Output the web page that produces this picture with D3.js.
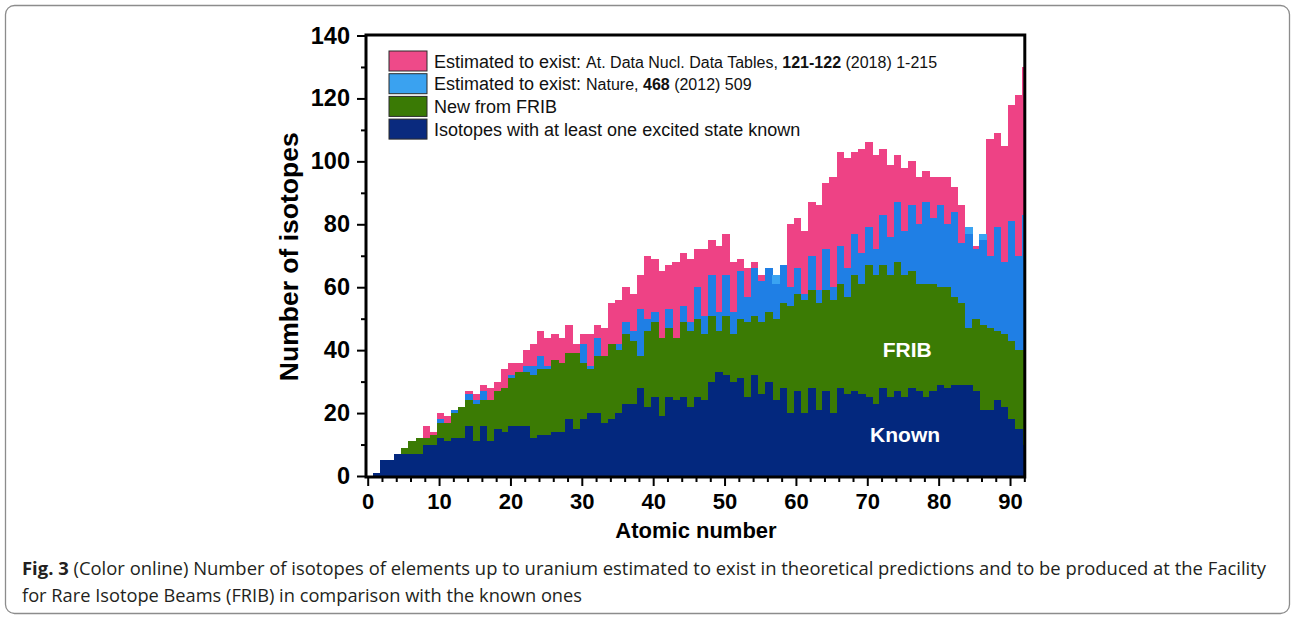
<!DOCTYPE html>
<html>
<head>
<meta charset="utf-8">
<script src="https://cdn.jsdelivr.net/npm/d3@7"></script>
<style>
  html, body { margin: 0; padding: 0; background: #ffffff; }
  svg { display: block; }
</style>
</head>
<body>
<svg id="chart" width="1294" height="620"></svg>
<script>
// Atomic numbers (hydrogen to uranium)
const atomicNumber = [
   1, 2, 3, 4, 5, 6, 7, 8, 9,10,
  11,12,13,14,15,16,17,18,19,20,
  21,22,23,24,25,26,27,28,29,30,
  31,32,33,34,35,36,37,38,39,40,
  41,42,43,44,45,46,47,48,49,50,
  51,52,53,54,55,56,57,58,59,60,
  61,62,63,64,65,66,67,68,69,70,
  71,72,73,74,75,76,77,78,79,80,
  81,82,83,84,85,86,87,88,89,90,
  91,92
];

// Estimated to exist: At. Data Nucl. Data Tables 121-122 (2018)
const estAtData = [
    1,  5,  5,  7,  9, 11, 12, 16, 14, 20,
   19, 21, 22, 27, 26, 29, 28, 30, 34, 36,
   36, 40, 42, 46, 44, 45, 44, 48, 42, 45,
   45, 48, 47, 55, 56, 60, 58, 64, 70, 69,
   65, 67, 68, 71, 69, 72, 72, 75, 73, 77,
   68, 69, 66, 68, 64, 66, 61, 67, 80, 82,
   78, 87, 86, 93, 95,103,101,103,104,106,
  102,104, 99,102, 98,100, 95, 97, 95, 95,
   95, 92, 86, 77, 73, 75,107,109,105,118,
  121,130
];

// Estimated to exist: Nature 468 (2012)
const estNature = [
    1,  5,  5,  7,  9, 11, 12, 12, 13, 18,
   17, 21, 22, 26, 24, 27, 24, 27, 28, 32,
   33, 35, 35, 38, 35, 37, 36, 39, 39, 42,
   35, 44, 38, 42, 42, 49, 46, 53, 50, 52,
   44, 53, 44, 54, 49, 60, 51, 64, 52, 64,
   52, 65, 57, 66, 62, 66, 64, 67, 60, 66,
   58, 70, 59, 72, 60, 73, 66, 77, 71, 79,
   72, 83, 76, 87, 78, 86, 80, 87, 82, 86,
   80, 84, 74, 79, 72, 77, 70, 79, 68, 81,
   70, 83
];

// New from FRIB
const newFRIB = [
    1,  5,  5,  7,  9, 11, 12, 12, 13, 17,
   17, 20, 22, 24, 23, 24, 24, 27, 28, 31,
   33, 33, 32, 34, 34, 37, 36, 39, 39, 36,
   34, 38, 38, 42, 40, 45, 43, 38, 46, 49,
   44, 47, 44, 49, 46, 50, 45, 51, 46, 51,
   45, 50, 49, 51, 49, 52, 50, 55, 54, 58,
   56, 59, 55, 59, 56, 61, 57, 64, 61, 67,
   64, 67, 64, 68, 64, 65, 61, 61, 61, 60,
   60, 57, 55, 47, 50, 48, 47, 46, 45, 43,
   40, 40
];

// Isotopes with at least one excited state known
const knownExcited = [
    1,  5,  5,  7,  7,  7,  7, 10, 10, 12,
   11, 12, 12, 16, 11, 16, 11, 15, 14, 16,
   16, 16, 12, 13, 13, 14, 14, 18, 15, 18,
   20, 20, 17, 18, 20, 23, 23, 28, 22, 25,
   19, 25, 24, 25, 22, 25, 24, 30, 33, 32,
   30, 31, 25, 32, 26, 30, 24, 28, 20, 27,
   20, 28, 21, 27, 20, 28, 26, 27, 26, 25,
   23, 28, 25, 27, 25, 28, 27, 25, 27, 29,
   28, 29, 29, 29, 27, 21, 21, 24, 22, 18,
   15, 10
];

// Axis ticks and labels
const xTickValues = [0, 10, 20, 30, 40, 50, 60, 70, 80, 90];
const yTickValues = [0, 20, 40, 60, 80, 100, 120, 140];
const xTitle = "Atomic number";
const yTitle = "Number of isotopes";

const legendEntries = [
  { color: "#ee4a89", parts: [
      { t: "Estimated to exist: ", size: 18 },
      { t: "At. Data Nucl. Data Tables, ", size: 16 },
      { t: "121-122", size: 16, bold: true },
      { t: " (2018) 1-215", size: 16 } ] },
  { color: "#3aa2f0", parts: [
      { t: "Estimated to exist: ", size: 18 },
      { t: "Nature, ", size: 16 },
      { t: "468", size: 16, bold: true },
      { t: " (2012) 509", size: 16 } ] },
  { color: "#3a7a05", parts: [ { t: "New from FRIB", size: 18 } ] },
  { color: "#0a2a7e", parts: [ { t: "Isotopes with at least one excited state known", size: 18 } ] }
];

const captionLines = [
  [ { t: "Fig. 3", bold: true },
    { t: " (Color online) Number of isotopes of elements up to uranium estimated to exist in theoretical predictions and to be produced at the Facility" } ],
  [ { t: "for Rare Isotope Beams (FRIB) in comparison with the known ones" } ]
];

const COLORS = {
  atData: "#ee4285",
  nature: "#1f7fe5",
  natureAbove: "#3aa3f2",
  frib: "#3b7b04",
  known: "#03287e"
};

const FONT = "'Liberation Sans', Arial, Helvetica, sans-serif";

const svg = d3.select("#chart");

// outer figure frame with rounded corners
svg.append("rect")
  .attr("x", 5.5).attr("y", 5.5)
  .attr("width", 1284).attr("height", 608)
  .attr("rx", 9).attr("ry", 9)
  .attr("fill", "none")
  .attr("stroke", "#8c8c8c")
  .attr("stroke-width", 1.3);

const x = d3.scaleLinear().domain([0, 92]).range([367.7, 1024.3]);
const y = d3.scaleLinear().domain([0, 140]).range([476, 35.5]);

// columns: each starts 0.3 below its atomic number and is one unit wide
const colLeft = z => x(z - 0.3);
const colWidth = x(1) - x(0);

svg.append("defs").append("clipPath").attr("id", "plotClip")
  .append("rect")
  .attr("x", x(0)).attr("y", y(140))
  .attr("width", x(92) - x(0)).attr("height", y(0) - y(140));

const plot = svg.append("g").attr("clip-path", "url(#plotClip)");

const rows = atomicNumber.map((z, i) => ({
  z,
  atData: estAtData[i],
  nature: estNature[i],
  frib: newFRIB[i],
  known: knownExcited[i]
}));

function drawColumns(cls, color, top, bottom) {
  plot.append("g").attr("class", cls)
    .selectAll("rect")
    .data(rows.filter(d => top(d) > bottom(d)))
    .join("rect")
    .attr("x", d => colLeft(d.z))
    .attr("width", colWidth + 0.4)
    .attr("y", d => y(top(d)))
    .attr("height", d => y(bottom(d)) - y(top(d)))
    .attr("fill", color)
    .attr("shape-rendering", "crispEdges");
}

drawColumns("at-data", COLORS.atData, d => d.atData, () => 0);
drawColumns("nature", COLORS.nature, d => Math.min(d.nature, d.atData), () => 0);
drawColumns("nature-above", COLORS.natureAbove, d => d.nature, d => d.atData);
drawColumns("frib", COLORS.frib, d => d.frib, () => 0);
drawColumns("known", COLORS.known, d => d.known, () => 0);

// in-plot labels
plot.append("text")
  .attr("x", x(75.6)).attr("y", y(40))
  .attr("dy", "0.35em")
  .attr("text-anchor", "middle")
  .attr("font-family", FONT).attr("font-weight", "bold").attr("font-size", 21)
  .attr("fill", "#ffffff")
  .text("FRIB");
plot.append("text")
  .attr("x", x(75.3)).attr("y", y(13.2))
  .attr("dy", "0.35em")
  .attr("text-anchor", "middle")
  .attr("font-family", FONT).attr("font-weight", "bold").attr("font-size", 21)
  .attr("fill", "#ffffff")
  .text("Known");

// axes
const axisLeftPos = 366;
const axisBottomPos = 477;
const axisRightPos = 1024.8;
const axisTopPos = 35;

const xMinor = d3.range(0, 93, 2).filter(v => v % 10 !== 0);
const yMinor = d3.range(10, 140, 20);

function styleAxis(size) {
  return g => {
    g.select(".domain").remove();
    g.selectAll(".tick line").attr("stroke", "#000").attr("stroke-width", 2);
    g.selectAll(".tick text")
      .attr("font-family", FONT).attr("font-weight", "bold")
      .attr("font-size", size).attr("fill", "#000");
  };
}

svg.append("g")
  .attr("transform", `translate(0,${axisBottomPos})`)
  .call(d3.axisBottom(x).tickValues(xMinor).tickSize(5).tickFormat(""))
  .call(styleAxis(22));
svg.append("g")
  .attr("transform", `translate(0,${axisBottomPos})`)
  .call(d3.axisBottom(x).tickValues(xTickValues).tickSize(9).tickPadding(7).tickFormat(d3.format("d")))
  .call(styleAxis(22));

svg.append("g")
  .attr("transform", `translate(${axisLeftPos},0)`)
  .call(d3.axisLeft(y).tickValues(yMinor).tickSize(5).tickFormat(""))
  .call(styleAxis(23.5));
svg.append("g")
  .attr("transform", `translate(${axisLeftPos},0)`)
  .call(d3.axisLeft(y).tickValues(yTickValues).tickSize(9).tickPadding(7).tickFormat(d3.format("d")))
  .call(styleAxis(23.5));

// plot frame
svg.append("rect")
  .attr("x", axisLeftPos).attr("y", axisTopPos)
  .attr("width", axisRightPos - axisLeftPos)
  .attr("height", axisBottomPos - axisTopPos)
  .attr("fill", "none")
  .attr("stroke", "#000")
  .attr("stroke-width", 3);

// axis titles
svg.append("text")
  .attr("x", (x(0) + x(92)) / 2).attr("y", 538)
  .attr("text-anchor", "middle")
  .attr("font-family", FONT).attr("font-weight", "bold").attr("font-size", 22)
  .attr("fill", "#000")
  .text(xTitle);

svg.append("text")
  .attr("transform", `translate(298,${(y(0) + y(140)) / 2 + 1}) rotate(-90)`)
  .attr("text-anchor", "middle")
  .attr("font-family", FONT).attr("font-weight", "bold").attr("font-size", 26.5)
  .attr("fill", "#000")
  .text(yTitle);

// legend
const legend = svg.append("g").attr("transform", "translate(389,51)");
const rowStep = 22.7;
legendEntries.forEach((entry, i) => {
  const g = legend.append("g").attr("transform", `translate(0,${i * rowStep})`);
  g.append("rect")
    .attr("x", 0).attr("y", 0)
    .attr("width", 38).attr("height", 20)
    .attr("fill", entry.color)
    .attr("stroke", "#2b2b2b").attr("stroke-width", 1);
  const txt = g.append("text")
    .attr("x", 45).attr("y", 16.5)
    .attr("font-family", FONT)
    .attr("fill", "#111");
  entry.parts.forEach(p => {
    txt.append("tspan")
      .attr("font-size", p.size)
      .attr("font-weight", p.bold ? "bold" : "normal")
      .text(p.t);
  });
});

// caption
const CAPTION_FONT = "'Open Sans', 'Noto Sans', sans-serif";
const captionSpecs = [
  { y: 575, length: 1244 },
  { y: 602, length: 560 }
];
captionLines.forEach((line, i) => {
  const t = svg.append("text")
    .attr("x", 22).attr("y", captionSpecs[i].y)
    .attr("font-family", CAPTION_FONT)
    .attr("font-size", 18.5)
    .attr("fill", "#231f20")
    .attr("textLength", captionSpecs[i].length)
    .attr("lengthAdjust", "spacingAndGlyphs");
  line.forEach(p => {
    t.append("tspan")
      .attr("font-weight", p.bold ? "bold" : "normal")
      .text(p.t);
  });
});
</script>
</body>
</html>
